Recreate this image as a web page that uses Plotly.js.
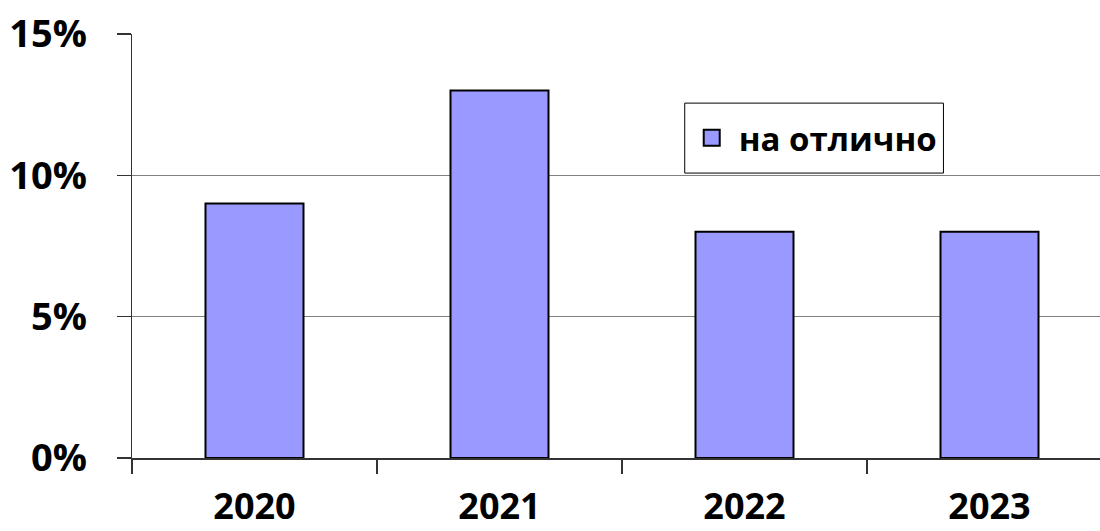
<!DOCTYPE html>
<html>
<head>
<meta charset="utf-8">
<script src="https://cdn.plot.ly/plotly-3.0.1.min.js"></script>
<style>
html,body{margin:0;padding:0;overflow:hidden;background:#fff;width:1100px;height:531px;}
#chart{width:1112px;height:531px;}
</style>
</head>
<body>
<div id="chart"></div>
<script>
const years = ["2020", "2021", "2022", "2023"];
const excellent = [0.09, 0.13, 0.08, 0.08];
const seriesName = "на отлично";
const yTicks = [0, 0.05, 0.10, 0.15];
const yTickLabels = ["0%", "5%", "10%", "15%"];

const font = "Open Sans, Liberation Sans, sans-serif";
const barColor = "#9999FF";

Plotly.newPlot("chart", [{
  type: "bar",
  x: years,
  y: excellent,
  name: seriesName,
  width: 0.4,
  marker: {color: barColor, line: {color: "#000000", width: 2}},
  showlegend: false,
  hoverinfo: "none"
}, {
  // legend-only entry so the legend swatch can be drawn larger
  type: "scatter",
  mode: "markers",
  x: [null],
  y: [null],
  name: seriesName,
  marker: {symbol: "square", size: 20, color: barColor, line: {color: "#000000", width: 2}},
  showlegend: true,
  hoverinfo: "none"
}], {
  width: 1112,
  height: 531,
  margin: {l: 132, r: 0, t: 34, b: 73},
  paper_bgcolor: "#ffffff",
  plot_bgcolor: "#ffffff",
  font: {family: font, color: "#000000"},
  showlegend: true,
  shapes: [{
    type: "rect", xref: "paper", yref: "paper",
    x0: 0.564, x1: 0.828, y0: 0.672, y1: 0.837,
    line: {color: "#000000", width: 1}, fillcolor: "#ffffff", layer: "above"
  }],
  legend: {
    x: 0.564, y: 0.821, xanchor: "left", yanchor: "top",
    borderwidth: 0, bgcolor: "rgba(0,0,0,0)",
    font: {family: font, size: 33, color: "#000000", weight: "bold"},
    itemwidth: 44
  },
  xaxis: {
    type: "category",
    range: [-0.5, 3.5],
    showgrid: false,
    showline: true, linecolor: "#333333", linewidth: 1.5,
    ticks: "outside", tickson: "boundaries", ticklen: 14, tickcolor: "#333333", tickwidth: 1.5,
    tickfont: {family: font, size: 36, color: "#000000", weight: "bold"},
    ticklabelstandoff: 16,
    zeroline: false
  },
  yaxis: {
    range: [0, 0.15],
    tickvals: yTicks,
    ticktext: yTickLabels,
    showgrid: true, gridcolor: "#808080", gridwidth: 1.5,
    showline: true, linecolor: "#333333", linewidth: 1.5,
    ticks: "outside", ticklen: 14, tickcolor: "#333333", tickwidth: 1.5,
    tickfont: {family: font, size: 38, color: "#000000", weight: "bold"},
    ticklabelstandoff: 22,
    zeroline: false
  }
}, {staticPlot: true, displayModeBar: false});
</script>
</body>
</html>
